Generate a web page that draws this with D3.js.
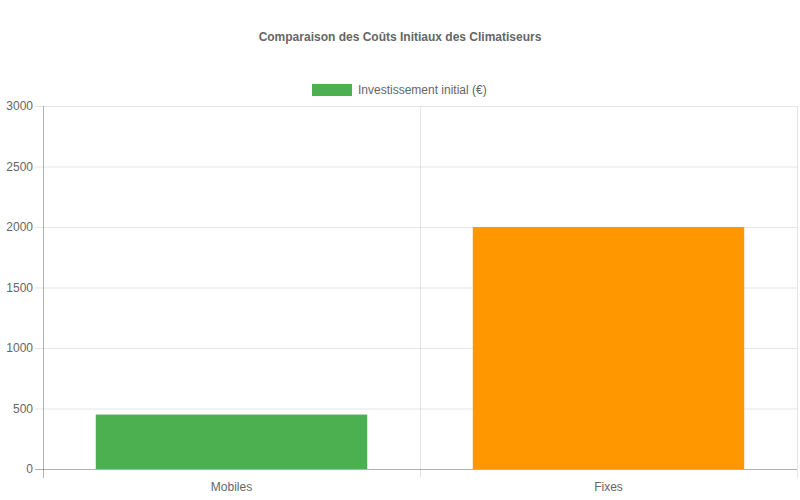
<!DOCTYPE html>
<html>
<head>
<meta charset="utf-8">
<script src="https://cdn.jsdelivr.net/npm/d3@7"></script>
<style>
  body { margin: 0; background: #fff; }
  text { font-family: "Liberation Sans", Arial, sans-serif; }
</style>
</head>
<body>
<div id="plot"></div>
<script>
// chart data
const categories = ["Mobiles", "Fixes"];
const values = [450, 2000];
const barColors = ["#4caf50", "#ff9800"];
const yTicks = [0, 500, 1000, 1500, 2000, 2500, 3000];
const seriesLabel = "Investissement initial (€)";
const title = "Comparaison des Coûts Initiaux des Climatiseurs";

const width = 800;
const height = 500;
const margin = {top: 106, right: 3, bottom: 31, left: 43};
const innerWidth = width - margin.left - margin.right;
const innerHeight = height - margin.top - margin.bottom;

const svg = d3.select("div#plot")
  .append("svg")
    .attr("width", width)
    .attr("height", height);

svg.append("rect")
    .attr("width", width)
    .attr("height", height)
    .attr("fill", "#fff");

// title
svg.append("text")
    .attr("x", width / 2)
    .attr("y", 37)
    .attr("text-anchor", "middle")
    .attr("dominant-baseline", "central")
    .attr("font-size", 12)
    .attr("font-weight", "bold")
    .attr("fill", "#666")
    .text(title);

// legend
const legend = svg.append("g").attr("transform", "translate(312, 84)");
legend.append("rect")
    .attr("width", 40)
    .attr("height", 12)
    .attr("fill", barColors[0]);
legend.append("text")
    .attr("x", 46)
    .attr("y", 6)
    .attr("dominant-baseline", "central")
    .attr("font-size", 12)
    .attr("fill", "#666")
    .text(seriesLabel);

const g = svg.append("g").attr("transform", `translate(${margin.left}, ${margin.top})`);

const xScale = d3.scaleBand()
    .domain(categories)
    .range([0, innerWidth]);

const yScale = d3.scaleLinear()
    .domain([0, 3000])
    .range([innerHeight, 0]);

// horizontal grid
g.append("g")
  .selectAll("line")
  .data(yTicks)
  .join("line")
    .attr("x1", -8)
    .attr("x2", innerWidth)
    .attr("y1", d => yScale(d) + 0.5)
    .attr("y2", d => yScale(d) + 0.5)
    .attr("stroke", d => d === 0 ? "rgba(0,0,0,0.3)" : "rgba(0,0,0,0.1)");

// vertical grid at category boundaries
const bounds = categories.map(c => xScale(c)).concat([innerWidth]);
g.append("g")
  .selectAll("line")
  .data(bounds)
  .join("line")
    .attr("x1", d => d + 0.5)
    .attr("x2", d => d + 0.5)
    .attr("y1", 0)
    .attr("y2", innerHeight + 9)
    .attr("stroke", (d, i) => i === 0 ? "rgba(0,0,0,0.3)" : "rgba(0,0,0,0.1)");

// y tick labels
g.append("g")
  .selectAll("text")
  .data(yTicks)
  .join("text")
    .attr("x", -10)
    .attr("y", d => yScale(d))
    .attr("text-anchor", "end")
    .attr("dominant-baseline", "central")
    .attr("font-size", 12)
    .attr("fill", "#666")
    .text(d => d);

// x tick labels
g.append("g")
  .selectAll("text")
  .data(categories)
  .join("text")
    .attr("x", d => xScale(d) + xScale.bandwidth() / 2)
    .attr("y", innerHeight + 18)
    .attr("text-anchor", "middle")
    .attr("dominant-baseline", "central")
    .attr("font-size", 12)
    .attr("fill", "#666")
    .text(d => d);

// bars
const barW = xScale.bandwidth() * 0.72;
g.append("g")
  .selectAll("rect")
  .data(values)
  .join("rect")
    .attr("x", (d, i) => xScale(categories[i]) + (xScale.bandwidth() - barW) / 2)
    .attr("y", d => yScale(d))
    .attr("width", barW)
    .attr("height", d => innerHeight - yScale(d))
    .attr("fill", (d, i) => barColors[i]);
</script>
</body>
</html>
